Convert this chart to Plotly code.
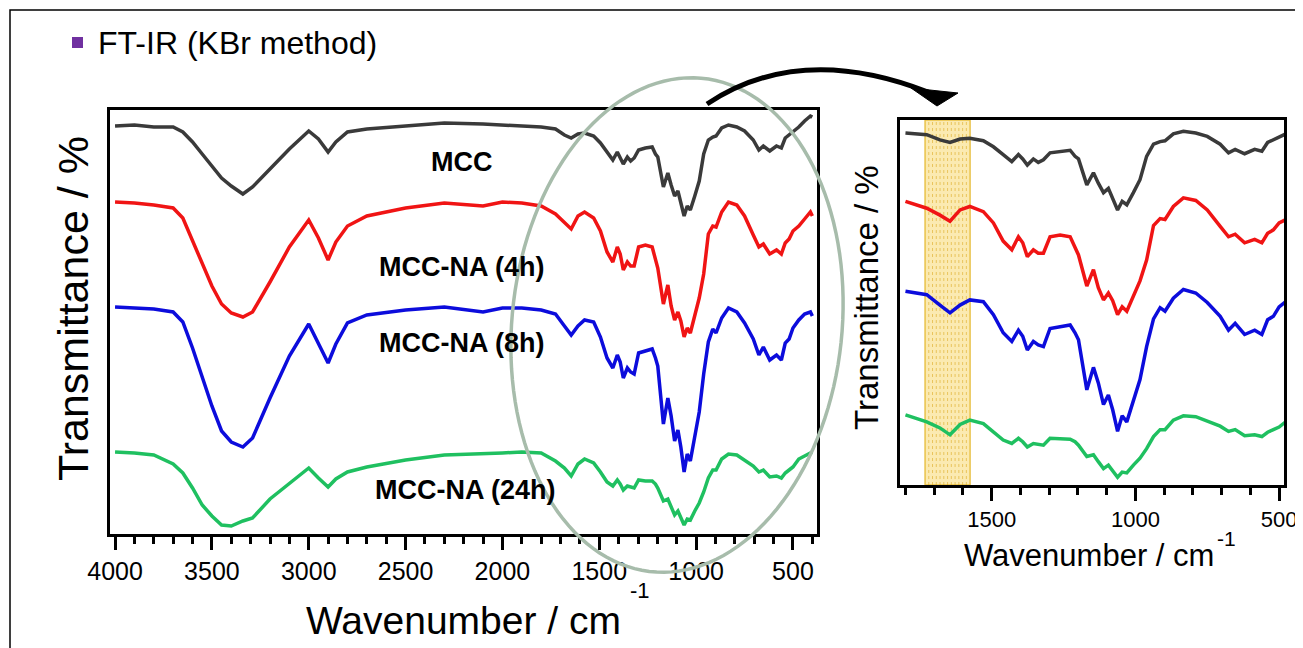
import numpy as np
import plotly.graph_objects as go

W, H = 1303, 648
OFF = 8  # page body margin in the browser

# ---------------- data (offset transmittance, arbitrary units) ----------------
wavenumber = [4000, 3900, 3800, 3700, 3650, 3600, 3550, 3500, 3450, 3400,
              3340, 3290, 3200, 3100, 3000, 2950, 2900, 2860, 2800, 2700,
              2500, 2300, 2100, 2000, 1900, 1800,
              1726, 1680, 1645, 1610, 1576, 1529, 1494, 1460, 1430, 1407,
              1392, 1376, 1355, 1338, 1320, 1297, 1262, 1227, 1210, 1198,
              1169, 1146, 1129, 1111, 1094, 1079, 1062, 1046, 1030, 1007,
              984, 961, 937, 914, 897, 868, 833, 790, 750, 705,
              676, 653, 620, 585, 560, 540, 520, 500, 470, 440,
              410, 400]

mcc = [408, 409, 407, 407, 402, 392, 380, 368, 356, 348,
       340, 347, 365, 385, 403, 395, 382, 392, 402, 405,
       408, 411, 410, 409, 408, 407,
       405, 399, 396, 400, 401, 398, 391, 382, 374, 382,
       377, 370, 377, 373, 376, 384, 386, 387, 380, 377,
       347, 361, 349, 338, 343, 330, 318, 328, 324, 338,
       353, 380, 394, 397, 398, 406, 409, 407, 403, 394,
       384, 388, 383, 388, 386, 396, 399, 402, 407, 413,
       418, 417]

mcc_na_4h = [332, 331, 329, 326, 316, 294, 270, 248, 230, 221,
             217, 222, 252, 287, 314, 296, 274, 292, 308, 318,
             326, 331, 328, 332, 331, 328,
             320, 312, 305, 318, 322, 316, 303, 282, 272, 287,
             280, 264, 272, 268, 268, 287, 289, 287, 274, 266,
             230, 249, 228, 214, 222, 213, 197, 206, 201, 218,
             236, 260, 300, 308, 307, 322, 332, 329, 318, 299,
             287, 290, 280, 284, 280, 291, 295, 303, 308, 315,
             322, 318]

mcc_na_8h = [227, 226, 225, 222, 212, 186, 156, 128, 103, 92,
             87, 96, 136, 178, 210, 190, 171, 190, 211, 219,
             224, 227, 222, 226, 226, 224,
             220, 208, 199, 208, 214, 212, 197, 176, 166, 179,
             172, 156, 166, 162, 160, 181, 183, 185, 176, 168,
             110, 136, 118, 93, 104, 87, 62, 80, 73, 98,
             122, 160, 192, 205, 201, 216, 226, 222, 211, 195,
             179, 187, 174, 179, 174, 191, 195, 206, 214, 220,
             222, 218]

mcc_na_24h = [82, 81, 79, 70, 61, 46, 29, 18, 9, 8,
              13, 16, 35, 50, 66, 56, 47, 55, 62, 67,
              74, 79, 80, 81, 82, 81,
              73, 66, 58, 70, 75, 71, 62, 52, 48, 54,
              50, 44, 48, 47, 46, 54, 53, 53, 50, 46,
              33, 35, 27, 19, 23, 16, 9, 15, 14, 23,
              31, 42, 56, 64, 64, 75, 80, 79, 74, 68,
              62, 64, 57, 58, 56, 61, 64, 67, 75, 78,
              81, 80]

series_names = ["MCC", "MCC-NA (4h)", "MCC-NA (8h)", "MCC-NA (24h)"]
series_colors = ["#3a3a3a", "#f01414", "#0c0cdc", "#1fc060"]
series_values = [mcc, mcc_na_4h, mcc_na_8h, mcc_na_24h]

main_ticks = [4000, 3500, 3000, 2500, 2000, 1500, 1000, 500]
inset_ticks = [1500, 1000, 500]
highlight_band = [1732, 1575]  # yellow band in inset (cm-1)

# ---------------- helpers (screen pixel -> paper) ----------------
def px(x):
    return (x - OFF) / W

def py(y):
    return 1 - (y - OFF) / H

FONT = "Arial, Liberation Sans, sans-serif"

fig = go.Figure()
wn = np.array(wavenumber)
inset_mask = wn <= 1805
for name, col, vals in zip(series_names, series_colors, series_values):
    v = np.array(vals)
    fig.add_trace(go.Scatter(x=wn, y=v, mode="lines", name=name,
                             line=dict(color=col, width=3.5),
                             xaxis="x", yaxis="y", showlegend=False))
    fig.add_trace(go.Scatter(x=wn[inset_mask], y=v[inset_mask], mode="lines",
                             name=name, line=dict(color=col, width=3.5),
                             xaxis="x2", yaxis="y2", showlegend=False))

axis_common = dict(showline=True, linecolor="black", linewidth=2.5, mirror=True,
                   showgrid=False, zeroline=False, automargin=False)

fig.update_layout(
    width=W, height=H, autosize=False,
    margin=dict(l=0, r=0, t=0, b=0, pad=0, autoexpand=False),
    paper_bgcolor="white", plot_bgcolor="white",
    font=dict(family=FONT, color="black"),
    xaxis=dict(domain=[px(110), px(817)], range=[4026, 376], anchor="y",
               tickmode="array", tickvals=main_ticks,
               ticks="outside", ticklen=13, tickwidth=2.5, tickcolor="black",
               tickfont=dict(size=25, family=FONT, color="black"),
               minor=dict(dtick=100, tick0=0, ticks="outside", ticklen=7,
                          tickwidth=2.5, tickcolor="black"),
               **axis_common),
    yaxis=dict(domain=[py(534), py(110)], range=[0, 424], anchor="x",
               showticklabels=False, ticks="", **axis_common),
    xaxis2=dict(domain=[px(900), px(1284)], range=[1819, 483], anchor="y2",
                tickmode="array", tickvals=inset_ticks,
                ticks="outside", ticklen=13, tickwidth=2.5, tickcolor="black",
                tickfont=dict(size=22, family=FONT, color="black"),
                minor=dict(dtick=100, tick0=0, ticks="outside", ticklen=7,
                           tickwidth=2.5, tickcolor="black"),
                **axis_common),
    yaxis2=dict(domain=[py(485), py(120)], range=[0, 422], anchor="x2",
                showticklabels=False, ticks="", **axis_common),
)

shapes = []
# outer frame (left + top visible)
shapes.append(dict(type="rect", xref="paper", yref="paper",
                   x0=px(10), y0=py(10), x1=1.05, y1=-0.05,
                   line=dict(color="black", width=1.5), fillcolor="rgba(0,0,0,0)"))
# legend square
shapes.append(dict(type="rect", xref="paper", yref="paper",
                   x0=px(72), y0=py(37), x1=px(83), y1=py(48),
                   line=dict(width=0), fillcolor="#7030a0"))
# yellow highlight band in inset (with dotted texture)
shapes.append(dict(type="rect", xref="x2", yref="y2 domain",
                   x0=highlight_band[0], x1=highlight_band[1], y0=0, y1=1,
                   line=dict(color="rgba(225,175,20,0.7)", width=1.5),
                   fillcolor="rgba(245,205,70,0.42)", layer="below"))
band_lo, band_hi = min(highlight_band), max(highlight_band)
for k in range(1, 12):
    xw = band_hi - k * (band_hi - band_lo) / 12
    shapes.append(dict(type="line", xref="x2", yref="y2 domain", x0=xw, x1=xw, y0=0, y1=1,
                       line=dict(color="rgba(215,160,10,0.5)", width=1, dash="dot"),
                       layer="below"))

# tilted ellipse around fingerprint region
cx, cy, a, b, th = 677, 325, 165, 248, np.deg2rad(6)
t = np.linspace(0, 2 * np.pi, 140)
ux, uy = np.sin(th), -np.cos(th)
vx, vy = np.cos(th), np.sin(th)
ex = cx + b * np.sin(t) * ux + a * np.cos(t) * vx
ey = cy + b * np.sin(t) * uy + a * np.cos(t) * vy
path = "M " + " L ".join(f"{px(x):.5f},{py(y):.5f}" for x, y in zip(ex, ey)) + " Z"
shapes.append(dict(type="path", xref="paper", yref="paper", path=path,
                   line=dict(color="#a7bcab", width=3.5)))

# curved arrow
p0, c, p2 = (707, 104), (800, 42), (928, 92)
shapes.append(dict(type="path", xref="paper", yref="paper",
                   path=f"M {px(p0[0])},{py(p0[1])} Q {px(c[0])},{py(c[1])} {px(p2[0])},{py(p2[1])}",
                   line=dict(color="black", width=5)))
shapes.append(dict(type="path", xref="paper", yref="paper",
                   path=f"M {px(911)},{py(88)} L {px(958)},{py(93)} L {px(937)},{py(106)} Z",
                   line=dict(color="black", width=1), fillcolor="black"))
fig.update_layout(shapes=shapes)

ann = []
def text(x, y, s, size, bold=False, angle=0, xanchor="center"):
    ann.append(dict(xref="paper", yref="paper", x=px(x), y=py(y), text=(f"<b>{s}</b>" if bold else s),
                    showarrow=False, xanchor=xanchor, yanchor="middle", textangle=angle,
                    font=dict(size=size, family=FONT, color="black")))

text(96, 43, "FT-IR (KBr method)", 32, xanchor="left")
# curve labels
text(462, 162, series_names[0], 27, bold=True)
text(461, 267, series_names[1], 27, bold=True)
text(461, 343, series_names[2], 27, bold=True)
text(465, 490, series_names[3], 27, bold=True)
# main axis titles
text(73, 309, "Transmittance / %", 43, angle=-90)
text(463, 620, "Wavenumber / cm", 39)
text(640, 590, "-1", 22)
# inset axis titles
text(866, 298, "Transmittance / %", 33, angle=-90)
text(1089, 555, "Wavenumber / cm", 31)
text(1226, 538, "-1", 21)
fig.update_layout(annotations=ann)

fig.write_html("out.html")
